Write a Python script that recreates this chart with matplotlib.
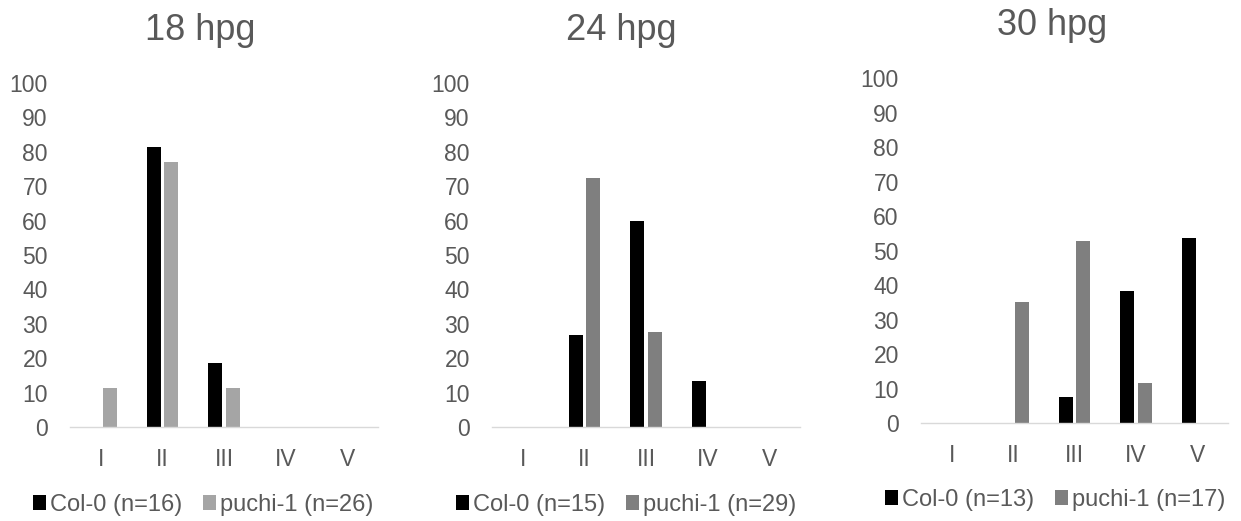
import matplotlib
matplotlib.use("Agg")
import matplotlib.pyplot as plt
import numpy as np

plt.rcParams['font.family'] = ['Liberation Sans', 'DejaVu Sans']

categories = ["I", "II", "III", "IV", "V"]
titles = ["18 hpg", "24 hpg", "30 hpg"]
col0_labels = ["Col-0 (n=16)", "Col-0 (n=15)", "Col-0 (n=13)"]
puchi_labels = ["puchi-1 (n=26)", "puchi-1 (n=29)", "puchi-1 (n=17)"]

col0_18 = [0, 81.25, 18.75, 0, 0]
puchi_18 = [11.54, 76.92, 11.54, 0, 0]
col0_24 = [0, 26.67, 60.0, 13.33, 0]
puchi_24 = [0, 72.41, 27.59, 0, 0]
col0_30 = [0, 0, 7.69, 38.46, 53.85]
puchi_30 = [0, 35.29, 52.94, 11.76, 0]

col0_series = [col0_18, col0_24, col0_30]
puchi_series = [puchi_18, puchi_24, puchi_30]
puchi_colors = ["#A5A5A5", "#7F7F7F", "#7F7F7F"]

W, H = 1241, 521
fig = plt.figure(figsize=(W / 100, H / 100), dpi=100)

# axes pixel boxes: left, right, zero-y, hundred-y (from top)
boxes = [(70, 378, 427.3, 82.7), (492, 800, 427.3, 82.7), (921, 1228, 423.3, 78.3)]
title_pos = [(200, 40), (621, 40), (1052, 35)]
legend_pos = [(203, 505), (626, 505), (1055, 500)]

text_color = "#595959"
x = np.arange(len(categories))
bw = 0.227
off = 0.142

for i in range(3):
    l, r, y0, y1 = boxes[i]
    ax = fig.add_axes([l / W, 1 - y0 / H, (r - l) / W, (y0 - y1) / H])
    b1 = ax.bar(x - off, col0_series[i], width=bw, color="black", label=col0_labels[i])
    b2 = ax.bar(x + off, puchi_series[i], width=bw, color=puchi_colors[i], label=puchi_labels[i])
    ax.set_xlim(-0.5, 4.5)
    ax.set_ylim(0, 100)
    ax.set_yticks(np.arange(0, 101, 10))
    ax.set_xticks(x)
    ax.set_xticklabels(categories)
    for s in ["top", "right", "left"]:
        ax.spines[s].set_visible(False)
    ax.spines["bottom"].set_color("#D9D9D9")
    ax.spines["bottom"].set_linewidth(1.0)
    ax.tick_params(axis="y", length=0, pad=16, labelsize=16.5, labelcolor=text_color)
    ax.tick_params(axis="x", length=0, pad=15, labelsize=16.5, labelcolor=text_color)
    tx, ty = title_pos[i]
    fig.text(tx / W, 1 - ty / H, titles[i], ha="center", va="baseline",
             fontsize=26, color=text_color)
    lx, ly = legend_pos[i]
    leg = ax.legend(handles=[b1, b2], loc="center", bbox_to_anchor=(lx / W, 1 - ly / H),
                    bbox_transform=fig.transFigure, ncol=2, frameon=False, fontsize=17,
                    handlelength=0.56, handleheight=0.56, handletextpad=0.15,
                    columnspacing=0.9, borderpad=0, borderaxespad=0)
    for t in leg.get_texts():
        t.set_color(text_color)

fig.savefig("out.png", dpi=100)
